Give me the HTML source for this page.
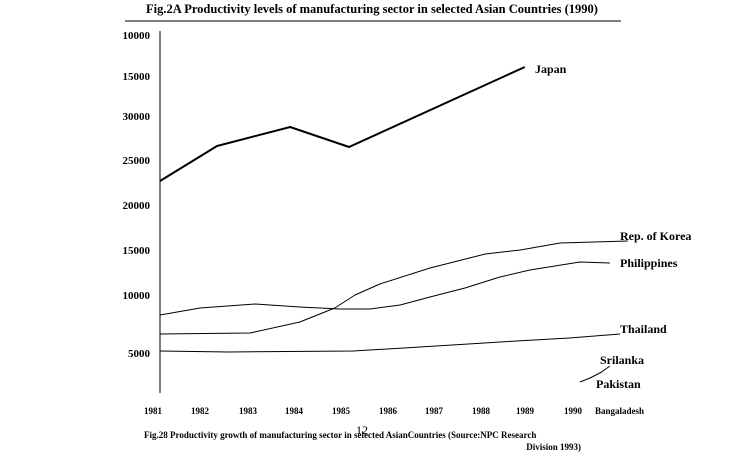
<!DOCTYPE html>
<html><head><meta charset="utf-8"><style>
body{margin:0;background:#fff;width:736px;height:468px;overflow:hidden;font-family:"Liberation Serif",serif}
svg text{font-family:"Liberation Serif",serif}
</style></head><body>
<svg id="c" width="736" height="468">
<text x="372" y="13" text-anchor="middle" font-size="12.5" font-weight="bold">Fig.2A Productivity levels of manufacturing sector in selected Asian Countries (1990)</text>
<line x1="125" y1="21" x2="621" y2="21" stroke="#000" stroke-width="1"/>
<line x1="160" y1="31" x2="160" y2="393" stroke="#000"/>
<g id="yt"></g>
<g id="xt"></g>
<g id="ser"></g>
<text x="144" y="438" font-size="9" font-weight="bold">Fig.28 Productivity growth of manufacturing sector in selected AsianCountries (Source:NPC Research</text>
<text x="581" y="450" font-size="9" font-weight="bold" text-anchor="end">Division 1993)</text>
<text x="356" y="434" font-size="12">12</text>
</svg>
<script>
const yTickLabels=["10000","15000","30000","25000","20000","15000","10000","5000"];
const yTickY=[35,76,116,160,205,250,295,353];
const years=["1981","1982","1983","1984","1985","1986","1987","1988","1989","1990"];
const japanYears=[1981,1982.24,1983.83,1985.11,1988.93];
const japanVals=[22697,26629,28764,26517,35506];
const koreaYears=[1981,1982.96,1984.04,1984.8,1985.24,1985.78,1986.87,1988.07,1988.83,1989.7,1991.17];
const koreaVals=[5506,5618,6854,8427,9888,11124,12921,14494,14944,15730,15955];
const philYears=[1981,1981.87,1983.07,1984.04,1984.91,1985.57,1986.22,1986.87,1987.63,1988.39,1989.04,1990.13,1990.78];
const philVals=[7640,8427,8876,8539,8315,8315,8764,9663,10674,11910,12697,13596,13483];
const thaiYears=[1981,1982.5,1985.2,1986.3,1988.4,1989.9,1991];
const thaiVals=[3596,3483,3596,3933,4607,5056,5506];
const sriYears=[1990.13,1990.35,1990.6,1990.78];
const sriVals=[112,562,1236,1910];
const NS="http://www.w3.org/2000/svg";
const xs=y=>160+(y-1981)*46;
const ys=v=>383-v*0.0089;
const yt=document.getElementById('yt'),xt=document.getElementById('xt'),ser=document.getElementById('ser');
yTickLabels.forEach((l,i)=>{const t=document.createElementNS(NS,'text');


t.setAttribute('x',150);t.setAttribute('y',yTickY[i]+4);t.setAttribute('text-anchor','end');t.setAttribute('font-size','11');t.setAttribute('font-weight','bold');t.textContent=l;yt.appendChild(t);});
const xl=[153,200,248,294,341,388,434,481,525,573];
years.forEach((l,i)=>{const t=document.createElementNS(NS,'text');


t.setAttribute('x',xl[i]);t.setAttribute('y',414);t.setAttribute('text-anchor','middle');t.setAttribute('font-size','9');t.setAttribute('font-weight','bold');t.textContent=l;xt.appendChild(t);});
const b=document.createElementNS(NS,'text');


b.setAttribute('x',595);b.setAttribute('y',414);b.setAttribute('font-size','9');b.setAttribute('font-weight','bold');b.textContent='Bangaladesh';xt.appendChild(b);
function line(name,yrs,vals,w){const p=document.createElementNS(NS,'polyline');


p.setAttribute('points',yrs.map((y,i)=>xs(y)+','+ys(vals[i])).join(' '));p.setAttribute('fill','none');p.setAttribute('stroke','#000');p.setAttribute('stroke-width',w);p.setAttribute('stroke-linejoin','round');ser.appendChild(p);}
line('japan-line',japanYears,japanVals,2);
line('korea-line',koreaYears,koreaVals,1);
line('philippines-line',philYears,philVals,1);
line('thailand-line',thaiYears,thaiVals,1);
line('srilanka-line',sriYears,sriVals,1);
function lab(name,txt,x,y){const t=document.createElementNS(NS,'text');


t.setAttribute('x',x);t.setAttribute('y',y);t.setAttribute('font-size','12');t.setAttribute('font-weight','bold');t.textContent=txt;ser.appendChild(t);}
lab('label-japan','Japan',535,73);
lab('label-korea','Rep. of  Korea',620,240);
lab('label-philippines','Philippines',620,267);
lab('label-thailand','Thailand',620,333);
lab('label-srilanka','Srilanka',600,364);
lab('label-pakistan','Pakistan',596,388);
</script>
</body></html>
